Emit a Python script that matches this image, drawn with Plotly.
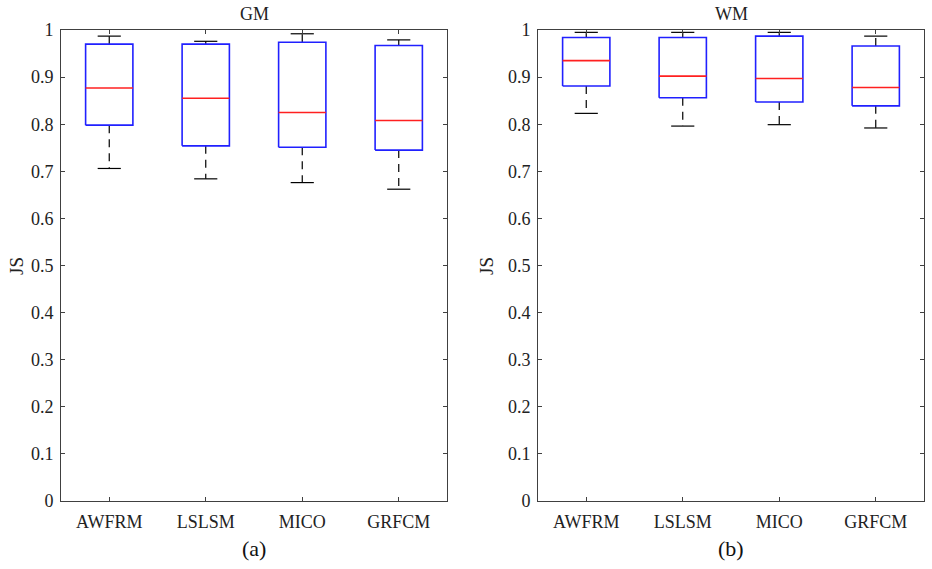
import plotly.graph_objects as go

categories = ["AWFRM", "LSLSM", "MICO", "GRFCM"]

# GM panel (a)
gm_lower = [0.706, 0.684, 0.676, 0.662]
gm_q1 = [0.798, 0.754, 0.751, 0.745]
gm_median = [0.877, 0.855, 0.825, 0.808]
gm_q3 = [0.970, 0.970, 0.974, 0.967]
gm_upper = [0.987, 0.976, 0.992, 0.979]

# WM panel (b)
wm_lower = [0.823, 0.796, 0.799, 0.792]
wm_q1 = [0.881, 0.856, 0.847, 0.839]
wm_median = [0.935, 0.902, 0.897, 0.878]
wm_q3 = [0.984, 0.984, 0.987, 0.966]
wm_upper = [0.995, 0.995, 0.995, 0.987]

ytick_vals = [0, 0.1, 0.2, 0.3, 0.4, 0.5, 0.6, 0.7, 0.8, 0.9, 1]
ytick_text = ["0", "0.1", "0.2", "0.3", "0.4", "0.5", "0.6", "0.7", "0.8", "0.9", "1"]

FONT = "Liberation Serif, Times New Roman, serif"
BOX_HALF = 0.245
CAP_HALF = 0.12
W, H = 932, 569

fig = go.Figure()


def add_panel(xa, ya, lower, q1, med, q3, upper):
    for i in range(len(categories)):
        x = i + 1
        # whiskers (dashed)
        fig.add_trace(go.Scatter(x=[x, x, None, x, x], y=[q3[i], upper[i], None, q1[i], lower[i]],
                                 mode="lines", line=dict(color="black", width=1.2, dash="8px,6px"),
                                 xaxis=xa, yaxis=ya, showlegend=False, hoverinfo="skip"))
        # caps
        fig.add_trace(go.Scatter(x=[x - CAP_HALF, x + CAP_HALF, None, x - CAP_HALF, x + CAP_HALF],
                                 y=[upper[i], upper[i], None, lower[i], lower[i]],
                                 mode="lines", line=dict(color="black", width=1.2),
                                 xaxis=xa, yaxis=ya, showlegend=False, hoverinfo="skip"))
        # box
        fig.add_trace(go.Scatter(x=[x - BOX_HALF, x + BOX_HALF, x + BOX_HALF, x - BOX_HALF, x - BOX_HALF],
                                 y=[q1[i], q1[i], q3[i], q3[i], q1[i]],
                                 mode="lines", line=dict(color="#2020ff", width=1.6),
                                 xaxis=xa, yaxis=ya, showlegend=False, hoverinfo="skip"))
        # median
        fig.add_trace(go.Scatter(x=[x - BOX_HALF, x + BOX_HALF], y=[med[i], med[i]],
                                 mode="lines", line=dict(color="#ff2020", width=1.6),
                                 xaxis=xa, yaxis=ya, showlegend=False, hoverinfo="skip"))


add_panel("x", "y", gm_lower, gm_q1, gm_median, gm_q3, gm_upper)
add_panel("x2", "y2", wm_lower, wm_q1, wm_median, wm_q3, wm_upper)


def px(v):
    return v / W


def py(v):
    return 1 - v / H


ydom = [py(501), py(30)]
axis_common = dict(showline=True, linecolor="#404040", linewidth=1, mirror="ticks",
                   ticks="inside", ticklen=4, tickcolor="#404040", showgrid=False, zeroline=False,
                   automargin=False,
                   tickfont=dict(family=FONT, size=18, color="#222"))

fig.update_layout(
    template="none",
    width=W, height=H,
    margin=dict(l=0, r=0, t=0, b=0, pad=0, autoexpand=False),
    paper_bgcolor="white", plot_bgcolor="white",
    xaxis=dict(domain=[px(61), px(447)], range=[0.5, 4.5], tickvals=[1, 2, 3, 4],
               ticktext=categories, anchor="y", ticklabelstandoff=4, **axis_common),
    yaxis=dict(domain=ydom, range=[0, 1], tickvals=ytick_vals, ticktext=ytick_text,
               anchor="x", ticklabelstandoff=3, **axis_common),
    xaxis2=dict(domain=[px(538), px(924)], range=[0.5, 4.5], tickvals=[1, 2, 3, 4],
                ticktext=categories, anchor="y2", ticklabelstandoff=4, **axis_common),
    yaxis2=dict(domain=ydom, range=[0, 1], tickvals=ytick_vals, ticktext=ytick_text,
                anchor="x2", ticklabelstandoff=3, **axis_common),
)

ann_font = dict(family=FONT, size=18, color="#222")
base = dict(xref="paper", yref="paper", showarrow=False, xanchor="center", yanchor="middle")
annotations = [
    dict(text="GM", x=px(254), y=py(14), font=ann_font, **base),
    dict(text="WM", x=px(731), y=py(14), font=ann_font, **base),
    dict(text="JS", x=px(16), y=py(266), textangle=-90,
         font=dict(family=FONT, size=19, color="#222"), **base),
    dict(text="JS", x=px(486), y=py(266), textangle=-90,
         font=dict(family=FONT, size=19, color="#222"), **base),
    dict(text="(a)", x=px(254), y=py(548), font=dict(family=FONT, size=22, color="#111"), **base),
    dict(text="(b)", x=px(731), y=py(548), font=dict(family=FONT, size=22, color="#111"), **base),
]
fig.update_layout(annotations=annotations)

fig.write_html("out.html",
               config={"displayModeBar": False, "staticPlot": True},
               post_script="document.body.style.margin='0';document.body.style.overflow='hidden';")
